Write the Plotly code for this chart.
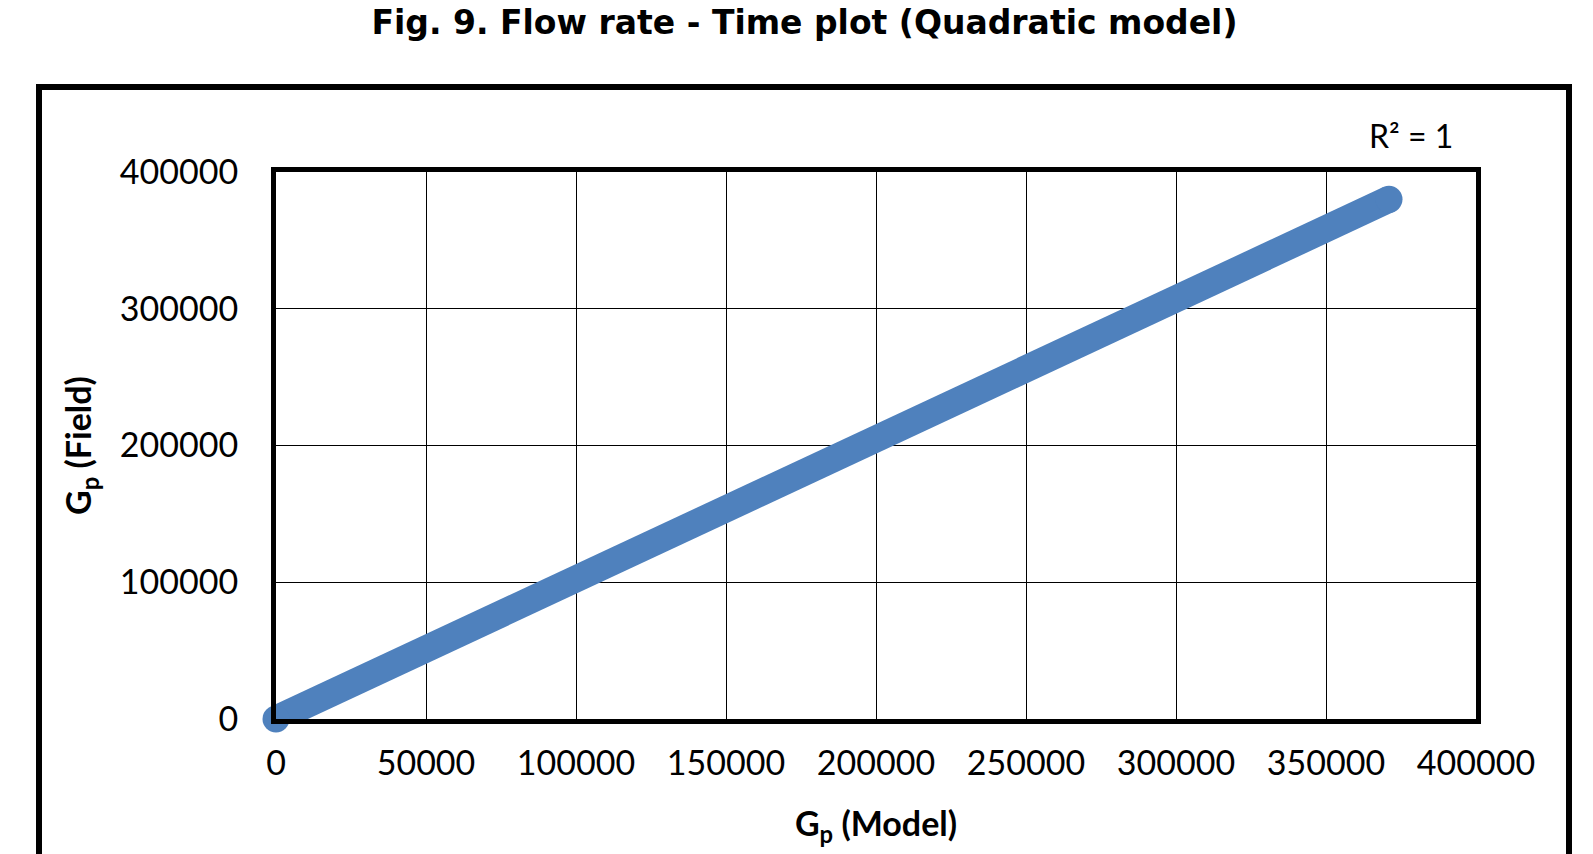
import plotly.graph_objects as go

# Data
gp_model = [0, 25000, 50000, 100000, 150000, 200000, 250000, 300000, 340000, 371000]
gp_field = [0, 25500, 51000, 102000, 152500, 202500, 254000, 306000, 347000, 380000]

x_ticks = [0, 50000, 100000, 150000, 200000, 250000, 300000, 350000, 400000]
y_ticks = [0, 100000, 200000, 300000, 400000]

title_text = "Fig. 9. Flow rate - Time plot (Quadratic model)"
x_title = "G<sub>p</sub> (Model)"
y_title = "G<sub>p</sub> (Field)"
r2_text = "R² = 1"

LW = 27
BLUE = "#4F81BD"

fig = go.Figure()
fig.add_trace(go.Scatter(
    x=gp_model, y=gp_field, mode="lines",
    line=dict(color=BLUE, width=LW),
    showlegend=False, hoverinfo="skip", cliponaxis=False,
))
# round end caps of the thick line
fig.add_trace(go.Scatter(
    x=[gp_model[0], gp_model[-1]], y=[gp_field[0], gp_field[-1]], mode="markers",
    marker=dict(color=BLUE, size=LW, opacity=1, line=dict(width=0)),
    showlegend=False, hoverinfo="skip", cliponaxis=False,
))

tick_font = dict(family="Lato, Open Sans, sans-serif", size=34, color="black")
title_font = dict(family="Lato, Open Sans, sans-serif", size=34, color="black", weight="bold")

fig.update_layout(
    width=1593, height=854,
    margin=dict(l=268, r=125, t=164, b=143),
    paper_bgcolor="white", plot_bgcolor="white",
    title=dict(text="<b>" + title_text + "</b>", x=0.5, xanchor="center",
               y=1 - 3 / 854, yanchor="top", yref="container", pad=dict(t=0, b=0),
               font=dict(family="DejaVu Sans, sans-serif", size=33, color="black")),
    xaxis=dict(range=[0, 400000], tickvals=x_ticks, ticktext=[str(v) for v in x_ticks],
               showgrid=True, gridcolor="black", gridwidth=1,
               showline=True, linecolor="black", linewidth=5, mirror=True,
               zeroline=False, ticks="", ticklabelstandoff=10,
               tickfont=tick_font,
               title=dict(text="<b>" + x_title + "</b>", font=title_font, standoff=33)),
    yaxis=dict(range=[0, 400000], tickvals=y_ticks, ticktext=[str(v) for v in y_ticks],
               showgrid=True, gridcolor="black", gridwidth=1,
               showline=True, linecolor="black", linewidth=5, mirror=True,
               zeroline=False, ticks="", ticklabelstandoff=26,
               tickfont=tick_font,
               title=dict(text="<b>" + y_title + "</b>", font=title_font, standoff=19)),
    annotations=[dict(text=r2_text, xref="paper", yref="paper",
                      x=(1403 - 268) / 1200, y=(711 - 127) / 547,
                      xanchor="center", yanchor="middle", showarrow=False,
                      font=dict(family="Lato, Open Sans, sans-serif", size=32, color="black"))],
    shapes=[dict(type="rect", xref="paper", yref="paper",
                 x0=(31 - 268) / 1200, x1=(1561 - 268) / 1200,
                 y0=(711 - 880) / 547, y1=(711 - 79) / 547,
                 line=dict(color="black", width=6), fillcolor="rgba(0,0,0,0)", layer="below")],
)

fig.write_html("out.html")
